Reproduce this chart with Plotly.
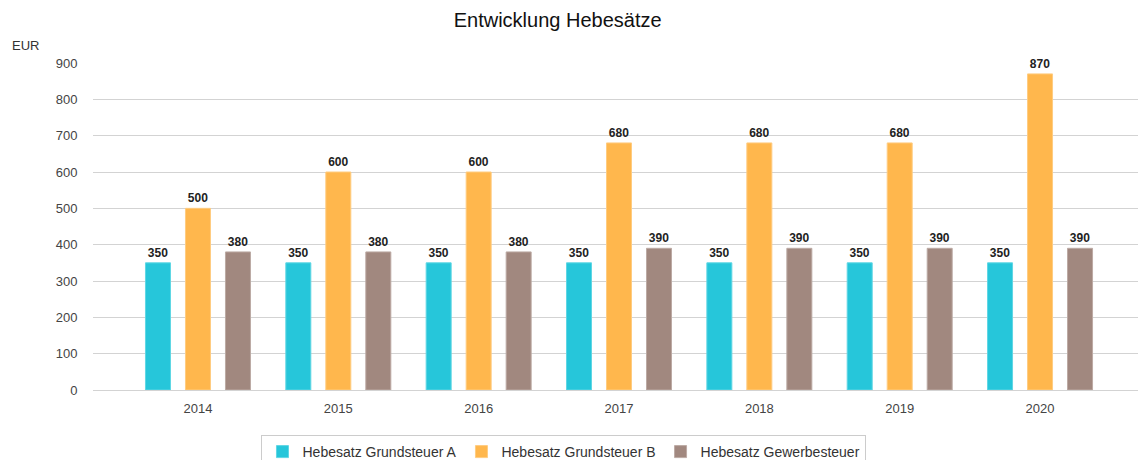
import plotly.graph_objects as go

years = ["2014", "2015", "2016", "2017", "2018", "2019", "2020"]
grundsteuer_a = [350, 350, 350, 350, 350, 350, 350]
grundsteuer_b = [500, 600, 600, 680, 680, 680, 870]
gewerbesteuer = [380, 380, 380, 390, 390, 390, 390]

series = [
    ("Hebesatz Grundsteuer A", grundsteuer_a, "#26C6DA", "#5fd6e4"),
    ("Hebesatz Grundsteuer B", grundsteuer_b, "#FFB74D", "#ffcc80"),
    ("Hebesatz Gewerbesteuer", gewerbesteuer, "#A1887F", "#bcaaa4"),
]

FONT = "Liberation Sans, Arial, sans-serif"

fig = go.Figure()
for name, vals, col, lcol in series:
    fig.add_trace(go.Bar(
        x=years, y=vals, name=name,
        marker=dict(color=col, line=dict(color=lcol, width=1)),
        text=[str(v) for v in vals], textposition="outside",
        textfont=dict(family=FONT, size=12, color="#222"),
        texttemplate="<b>%{text}</b>", cliponaxis=False,
    ))

fig.update_layout(
    width=1138, height=460,
    margin=dict(l=93, r=0, t=63, b=70, autoexpand=False),
    paper_bgcolor="white", plot_bgcolor="white",
    font=dict(family=FONT, size=13, color="#444"),
    title=dict(text="Entwicklung Hebesätze", x=0.49, xanchor="center", y=0.957, yanchor="middle",
               font=dict(size=20, color="#111")),
    barmode="group", bargap=0.145, bargroupgap=0.375,
    showlegend=True,
    legend=dict(orientation="h", x=0.4507, xanchor="center", y=-0.1376, yanchor="top",
                bordercolor="#cccccc", borderwidth=1, font=dict(size=14, color="#333"),
                itemwidth=30, tracegroupgap=0),
    annotations=[dict(text="EUR", xref="paper", yref="paper", x=-0.0794, y=1.055,
                      xanchor="left", yanchor="middle", showarrow=False,
                      font=dict(size=13, color="#333"))],
)
fig.update_xaxes(type="category", range=[-0.748, 6.698], showgrid=False, showline=False,
                 ticks="outside", ticklen=6, tickcolor="rgba(0,0,0,0)")
fig.update_yaxes(range=[0, 900], dtick=100, showgrid=True, gridcolor="#d3d3d3", gridwidth=1,
                 zeroline=True, zerolinecolor="#d3d3d3", zerolinewidth=1, showline=False,
                 ticks="outside", ticklen=12, tickcolor="rgba(0,0,0,0)")

fig.write_html("out.html", config={"displayModeBar": False},
               post_script="document.body.style.margin='0';document.body.style.overflow='hidden';")
